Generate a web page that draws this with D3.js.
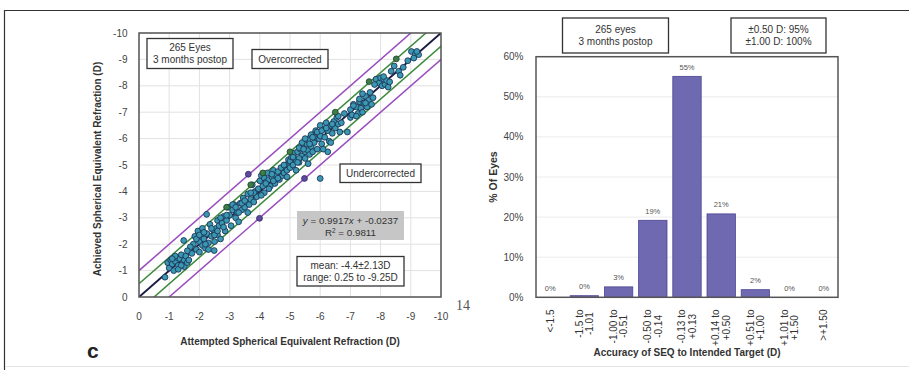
<!DOCTYPE html>
<html>
<head>
<meta charset="utf-8">
<script src="https://cdn.jsdelivr.net/npm/d3@7"></script>
<style>
  body { margin: 0; background: #fff; }
  svg { font-family: "Liberation Sans", Arial, sans-serif; display: block; }
</style>
</head>
<body>
<svg id="fig" width="909" height="370"></svg>
<script>
// --- scatter: attempted vs achieved SEQ (D)
const attempted = [
  -0.86, -0.95, -1.0, -1.05, -1.1, -1.15, -1.2, -1.25, -1.3, -1.35, -1.4, -1.45, -1.5, -1.5, -1.55, -1.6, -1.3, -1.2, -1.48, -1.65,
  -1.75, -1.8, -1.85, -1.9, -1.95, -2.0, -2.0, -2.05, -2.1, -2.15, -2.2, -2.24, -2.25, -2.3, -2.35, -2.4, -2.45, -2.49, -2.5, -2.55,
  -2.6, -2.6, -2.65, -2.7, -2.75, -2.8, -2.85, -2.9, -2.95, -2.1, -1.9, -2.3, -2.7, -2.5, -2.8,
  -3.0, -3.05, -3.1, -3.15, -3.2, -3.25, -3.3, -3.35, -3.4, -3.45, -3.5, -3.55, -3.6, -3.65, -3.7, -3.75, -3.8, -3.85, -3.9, -3.95,
  -3.1, -3.3, -3.6, -3.4,
  -4.0, -4.05, -4.1, -4.15, -4.2, -4.25, -4.3, -4.35, -4.4, -4.45, -4.5, -4.55, -4.6, -4.65, -4.7, -4.75, -4.8, -4.85, -4.9, -4.95,
  -4.15, -4.3, -4.45, -4.05,
  -5.0, -5.0, -5.05, -5.1, -5.15, -5.2, -5.25, -5.3, -5.35, -5.4, -5.45, -5.5, -5.5, -5.55, -5.6, -5.6, -5.65, -5.7, -5.7, -5.75,
  -5.8, -5.85, -5.9, -5.95, -5.6, -5.4, -5.3, -5.2, -5.8, -5.5, -6.0,
  -6.0, -6.05, -6.1, -6.15, -6.2, -6.25, -6.25, -6.3, -6.35, -6.4, -6.45, -6.5, -6.55, -6.6, -6.65, -6.7, -6.9, -6.1, -6.35, -6.0,
  -7.0, -7.0, -7.05, -7.1, -7.2, -7.25, -7.3, -7.35, -7.4, -7.45, -7.5, -7.55, -7.6, -7.65, -7.7, -7.75, -7.4, -7.2,
  -7.85, -7.95, -8.0, -8.05, -8.1, -8.15, -8.2, -8.25, -8.35, -8.6, -8.65, -8.75, -9.02, -9.15, -9.26, -9.1,
  -1.1, -1.4, -1.7, -2.0, -2.2, -2.4, -2.6, -2.9, -3.2, -3.5, -3.8, -4.2, -4.4, -4.6, -4.8, -5.1, -5.3, -5.45, -5.65, -5.75,
  -5.9, -6.05, -6.2, -6.4, -6.6, -6.8, -7.1, -7.3, -7.5, -7.8, -8.1, -8.3, -8.45, -8.9, -9.2, -4.9, -5.25, -2.15, -1.6, -3.7
];
const achieved = [
  -0.75, -1.3, -1.1, -1.4, -1.25, -1.0, -1.35, -1.5, -1.2, -1.45, -1.6, -1.3, -1.15, -1.4, -1.55, -1.3, -1.05, -1.55, -2.14, -1.4,
  -1.65, -2.0, -2.3, -1.8, -2.5, -2.1, -1.7, -2.3, -1.95, -2.2, -1.85, -3.13, -2.4, -2.05, -2.75, -2.3, -2.55, -1.76, -2.1, -2.6,
  -2.35, -2.9, -2.7, -2.2, -2.8, -3.05, -2.5, -2.9, -3.4, -2.6, -2.2, -1.8, -3.0, -2.35, -2.65,
  -3.1, -2.7, -3.3, -3.5, -3.0, -3.2, -2.85, -3.55, -3.3, -3.75, -3.4, -3.6, -3.9, -3.5, -3.7, -4.25, -3.6, -4.0, -3.8, -4.1,
  -3.5, -3.2, -3.2, -3.55,
  -4.4, -4.6, -4.2, -4.5, -4.35, -4.7, -4.45, -4.2, -4.55, -4.8, -4.3, -4.6, -4.75, -4.45, -4.9, -4.6, -4.7, -5.0, -4.8, -5.2,
  -3.95, -4.1, -4.4, -3.85,
  -4.9, -5.15, -5.3, -5.0, -5.45, -5.2, -5.5, -5.1, -5.6, -5.35, -5.7, -5.5, -5.25, -5.8, -5.55, -5.95, -5.4, -5.7, -6.15, -5.5,
  -5.85, -6.3, -5.6, -6.0, -5.05, -5.85, -5.65, -4.8, -6.05, -6.0, -4.49,
  -6.1, -5.8, -6.35, -6.05, -6.6, -6.3, -5.5, -5.9, -6.5, -6.2, -6.65, -6.4, -6.8, -6.55, -6.25, -6.6, -6.25, -5.6, -5.85, -6.5,
  -7.1, -6.8, -6.9, -7.3, -7.2, -6.95, -7.4, -7.15, -7.0, -7.35, -7.6, -7.2, -7.45, -7.75, -7.3, -7.55, -7.7, -6.85,
  -8.25, -8.1, -8.3, -8.0, -8.25, -8.05, -8.2, -7.95, -8.55, -8.55, -8.4, -8.7, -9.3, -9.2, -9.18, -9.05,
  -1.45, -1.2, -1.9, -2.35, -2.0, -2.6, -2.5, -3.1, -3.4, -3.65, -3.95, -4.3, -4.65, -4.5, -5.0, -5.3, -5.25, -5.6, -5.8, -6.05,
  -6.25, -6.3, -6.4, -6.55, -6.85, -6.95, -7.25, -7.5, -7.35, -8.05, -8.35, -8.15, -8.75, -8.95, -9.3, -4.55, -5.1, -2.45, -1.75, -3.95
];
const greenAttempted = [-8.52, -7.62, -6.5, -4.1, -2.9, -5.0, -3.7];
const greenAchieved  = [-9.02, -8.16, -7.0, -4.7, -3.4, -5.5, -4.25];
const purpleAttempted = [-3.62, -3.99, -5.48];
const purpleAchieved  = [-4.65, -2.98, -4.49];
const seqTicks = [0, -1, -2, -3, -4, -5, -6, -7, -8, -9, -10];
const refOffsets = [0, -0.5, 0.5, -1, 1];

// --- histogram: accuracy of SEQ to intended target
const accuracyBins = [
  ['<-1.5'], ['-1.5 to', '-1.01'], ['-1.00 to', '-0.51'], ['-0.50 to', '-0.14'], ['-0.13 to', '+0.13'],
  ['+0.14 to', '+0.50'], ['+0.51 to', '+1.00'], ['+1.01 to', '+1.50'], ['>+1.50']
];
const pctEyes = [0, 0.4, 2.6, 19.2, 55.1, 20.8, 1.9, 0, 0];
const pctTicks = [0, 10, 20, 30, 40, 50, 60];

const svg = d3.select('#fig');

// page frame
svg.append('line').attr('x1', 4).attr('x2', 909).attr('y1', 10.5).attr('y2', 10.5).attr('stroke', '#333').attr('stroke-width', 1.2);
svg.append('line').attr('x1', 4.5).attr('x2', 4.5).attr('y1', 10).attr('y2', 370).attr('stroke', '#333').attr('stroke-width', 1.2);
svg.append('line').attr('x1', 5).attr('x2', 909).attr('y1', 366.5).attr('y2', 366.5).attr('stroke', '#e4e4e4').attr('stroke-width', 1);

const box = (g, x, y, w, h, lines, fill, stroke) => {
  g.append('rect').attr('x', x).attr('y', y).attr('width', w).attr('height', h)
    .attr('fill', fill || '#fff').attr('stroke', stroke || '#333').attr('stroke-width', stroke === 'none' ? 0 : 1.3);
  const t = g.append('text').attr('text-anchor', 'middle').style('font-size', '10px').attr('fill', '#333');
  const lh = 12;
  const y0 = y + h / 2 - (lines.length - 1) * lh / 2 + 3.5;
  lines.forEach((l, i) => {
    t.append('tspan').attr('x', x + w / 2).attr('y', y0 + i * lh).text(l);
  });
  return t;
};

// ================= left: scatter =================
const L = { left: 139, right: 441, top: 33, bottom: 297 };
const x = d3.scaleLinear().domain([0, -10]).range([L.left, L.right]);
const y = d3.scaleLinear().domain([0, -10]).range([L.bottom, L.top]);
const left = svg.append('g');

left.append('g').selectAll('line').data(seqTicks).enter().append('line')
  .attr('x1', (d) => x(d)).attr('x2', (d) => x(d)).attr('y1', L.top).attr('y2', L.bottom)
  .attr('stroke', '#e2e2e2');
left.append('g').selectAll('line').data(seqTicks).enter().append('line')
  .attr('y1', (d) => y(d)).attr('y2', (d) => y(d)).attr('x1', L.left).attr('x2', L.right)
  .attr('stroke', '#e2e2e2');

svg.append('clipPath').attr('id', 'plotclip').append('rect')
  .attr('x', L.left).attr('y', L.top).attr('width', L.right - L.left).attr('height', L.bottom - L.top);

const refColor = (o) => o === 0 ? '#1c1c44' : (Math.abs(o) === 0.5 ? '#3c8a3c' : '#9a4cbf');
left.append('g').attr('clip-path', 'url(#plotclip)').selectAll('line').data(refOffsets).enter().append('line')
  .attr('x1', (o) => x(0)).attr('y1', (o) => y(0 + o))
  .attr('x2', (o) => x(-12)).attr('y2', (o) => y(-12 + o))
  .attr('stroke', refColor)
  .attr('stroke-width', (o) => o === 0 ? 2 : 1.5);

const pts = left.append('g');
pts.selectAll('circle.main').data(attempted).enter().append('circle')
  .attr('class', 'main')
  .attr('cx', (d) => x(d)).attr('cy', (d, i) => y(achieved[i])).attr('r', 2.9)
  .attr('fill', '#3a98b3').attr('stroke', '#1c3657').attr('stroke-width', 0.9);
pts.selectAll('circle.green').data(greenAttempted).enter().append('circle')
  .attr('class', 'green')
  .attr('cx', (d) => x(d)).attr('cy', (d, i) => y(greenAchieved[i])).attr('r', 2.9)
  .attr('fill', '#3f7c4c').attr('stroke', '#1f4a2a').attr('stroke-width', 0.9);
pts.selectAll('circle.purple').data(purpleAttempted).enter().append('circle')
  .attr('class', 'purple')
  .attr('cx', (d) => x(d)).attr('cy', (d, i) => y(purpleAchieved[i])).attr('r', 2.9)
  .attr('fill', '#5e4a9c').attr('stroke', '#3a2c6c').attr('stroke-width', 0.9);

left.append('rect').attr('x', L.left).attr('y', L.top).attr('width', L.right - L.left).attr('height', L.bottom - L.top)
  .attr('fill', 'none').attr('stroke', '#555').attr('stroke-width', 1.5);

left.append('g').selectAll('text').data(seqTicks).enter().append('text')
  .attr('x', (d) => x(d)).attr('y', 319.5).attr('text-anchor', 'middle')
  .style('font-size', '10px').attr('fill', '#444').text((d) => d === 0 ? '0' : d);
left.append('g').selectAll('text').data(seqTicks).enter().append('text')
  .attr('x', 127.5).attr('y', (d) => y(d) + 3.5).attr('text-anchor', 'end')
  .style('font-size', '10px').attr('fill', '#444').text((d) => d === 0 ? '0' : d);

left.append('text').attr('x', 290).attr('y', 345).attr('text-anchor', 'middle')
  .style('font-size', '10px').style('font-weight', 'bold').attr('fill', '#333')
  .text('Attempted Spherical Equivalent Refraction (D)');
left.append('text').attr('transform', 'translate(101,169) rotate(-90)').attr('text-anchor', 'middle')
  .style('font-size', '10px').style('font-weight', 'bold').attr('fill', '#333')
  .text('Achieved Spherical Equivalent Refraction (D)');

box(left, 147, 38.5, 86, 30, ['265 Eyes', '3 months postop']);
box(left, 252, 49.5, 76, 19, ['Overcorrected']);
box(left, 340, 164, 81, 18.5, ['Undercorrected']);
box(left, 297, 256.5, 107, 29.5, ['mean: -4.4\u00b12.13D', 'range: 0.25 to -9.25D']);

// regression label
left.append('rect').attr('x', 297).attr('y', 211).attr('width', 107).attr('height', 29).attr('fill', '#c6c6c6');
const eq = left.append('text').attr('text-anchor', 'middle').style('font-size', '9.8px').attr('fill', '#333');
const eq1 = eq.append('tspan').attr('x', 350.5).attr('y', 224);
eq1.append('tspan').style('font-style', 'italic').text('y');
eq1.append('tspan').text(' = 0.9917');
eq1.append('tspan').style('font-style', 'italic').text('x');
eq1.append('tspan').text(' + -0.0237');
const eq2 = eq.append('tspan').attr('x', 350.5).attr('y', 236);
eq2.append('tspan').text('R');
eq2.append('tspan').attr('dy', -3.5).style('font-size', '6.5px').text('2');
eq2.append('tspan').attr('dy', 3.5).text(' = 0.9811');

svg.append('text').attr('x', 87).attr('y', 358).style('font-size', '21px').style('font-weight', 'bold')
  .attr('fill', '#222').text('c');
svg.append('text').attr('x', 456).attr('y', 310).style('font-size', '14px')
  .style('font-family', '"Liberation Serif", "DejaVu Serif", serif').attr('fill', '#555').text('14');

// ================= right: histogram =================
const R = { left: 536, right: 838, top: 56.7, bottom: 297.3 };
const bx = d3.scaleBand().domain(d3.range(accuracyBins.length)).range([R.left, R.right])
  .paddingInner(0.17).paddingOuter(0);
const by = d3.scaleLinear().domain([0, 60]).range([R.bottom, R.top]);
const right = svg.append('g');

right.append('g').selectAll('line').data(pctTicks.filter((t) => t > 0 && t < 60)).enter().append('line')
  .attr('x1', R.left).attr('x2', R.right).attr('y1', (d) => by(d)).attr('y2', (d) => by(d))
  .attr('stroke', '#ececec');

right.append('g').selectAll('rect').data(pctEyes).enter().append('rect')
  .attr('x', (d, i) => bx(i)).attr('width', bx.bandwidth())
  .attr('y', (d) => by(d)).attr('height', (d) => by(0) - by(d))
  .attr('fill', '#6f69b2').attr('stroke', (d) => d > 0 ? '#4b4690' : 'none').attr('stroke-width', 0.8);

right.append('g').selectAll('text').data(pctEyes).enter().append('text')
  .attr('x', (d, i) => bx(i) + bx.bandwidth() / 2).attr('y', (d) => by(d) - 6.5)
  .attr('text-anchor', 'middle').style('font-size', '7.5px').attr('fill', '#555')
  .text((d) => Math.round(d) + '%');

right.append('rect').attr('x', R.left).attr('y', R.top).attr('width', R.right - R.left).attr('height', R.bottom - R.top)
  .attr('fill', 'none').attr('stroke', '#555').attr('stroke-width', 1.5);

right.append('g').selectAll('text').data(pctTicks).enter().append('text')
  .attr('x', 523.5).attr('y', (d) => by(d) + 3.5).attr('text-anchor', 'end')
  .style('font-size', '10px').attr('fill', '#444').text((d) => d + '%');

// rotated category labels
const catG = right.append('g').selectAll('g').data(accuracyBins).enter().append('g');
catG.each(function (lines, i) {
  const g = d3.select(this);
  const cx = bx(i) + bx.bandwidth() / 2;
  const texts = lines.map((l, k) => g.append('text')
    .attr('text-anchor', 'middle').style('font-size', '10px').attr('fill', '#333').text(l));
  const maxLen = d3.max(texts, (t) => t.node().getComputedTextLength());
  texts.forEach((t, k) => {
    const lx = cx + (k - (lines.length - 1) / 2) * 10.5 + 3.5;
    t.attr('transform', 'translate(' + lx + ',' + (309.5 + maxLen / 2) + ') rotate(-90)');
  });
});

right.append('text').attr('x', 687).attr('y', 356).attr('text-anchor', 'middle')
  .style('font-size', '10px').style('font-weight', 'bold').attr('fill', '#333')
  .text('Accuracy of SEQ to Intended Target (D)');
right.append('text').attr('transform', 'translate(497,177) rotate(-90)').attr('text-anchor', 'middle')
  .style('font-size', '10.5px').style('font-weight', 'bold').attr('fill', '#333')
  .text('% Of Eyes');

box(right, 562.5, 18, 106, 35, ['265 eyes', '3 months postop']);
box(right, 731, 18, 95, 35, ['\u00b10.50 D: 95%', '\u00b11.00 D: 100%']);
</script>
</body>
</html>
